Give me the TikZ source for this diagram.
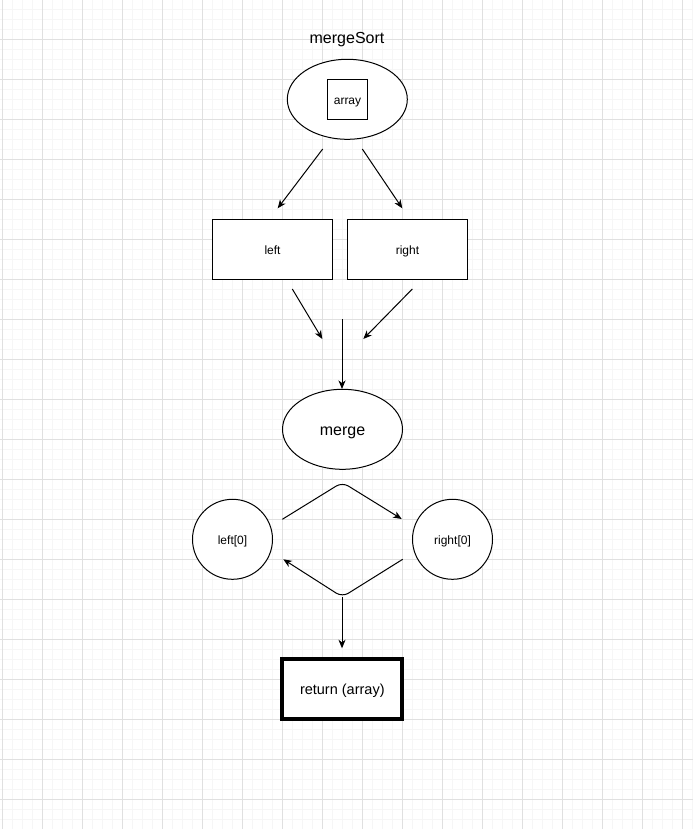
\documentclass[tikz,border=0pt]{standalone}
\usepackage{fontspec}
\setmainfont{Liberation Sans}
\usetikzlibrary{arrows.meta,shapes.geometric}

\definecolor{gridmajor}{HTML}{E0E0E0}
\definecolor{gridminor}{HTML}{F6F6F6}

\newcommand{\fsz}[1]{\fontsize{#1}{#1}\selectfont}

\tikzset{
  shape base/.style={draw=black, line width=1pt, inner sep=0pt, outer sep=0pt, fill=white},
  txt12/.style={font=\fsz{12}, text height=9.6pt, text depth=0pt},
  txt16/.style={font=\fsz{16}, text height=12.8pt, text depth=0pt},
  ovalbox/.style={shape base, ellipse, minimum width=120pt, minimum height=80pt},
  squarebox/.style={shape base, rectangle, minimum width=40pt, minimum height=40pt},
  rectbox/.style={shape base, rectangle, minimum width=120pt, minimum height=60pt},
  roundbox/.style={shape base, circle, minimum size=80pt},
  resultbox/.style={shape base, rectangle, line width=4pt, minimum width=120pt, minimum height=60pt,
    font=\fsz{14.5}, text height=10pt, text depth=0pt},
  conn/.style={draw=black, line width=1pt, -{Stealth[length=8.5pt, width=7pt, inset=2.5pt]}},
}

\begin{document}
\begin{tikzpicture}[x=1pt, y=-1pt]
  % page and grid
  \useasboundingbox (0,0) rectangle (693,829);
  \fill[white] (0,0) rectangle (693,829);
  \foreach \gx in {2.5,12.5,...,692.5}
    \draw[gridminor, line width=1pt] (\gx,0) -- (\gx,829);
  \foreach \gy in {-0.5,9.5,...,829.5}
    \draw[gridminor, line width=1pt] (0,\gy) -- (693,\gy);
  \foreach \gx in {2.5,42.5,...,692.5}
    \draw[gridmajor, line width=1pt] (\gx,0) -- (\gx,829);
  \foreach \gy in {39.5,79.5,...,829.5}
    \draw[gridmajor, line width=1pt] (0,\gy) -- (693,\gy);

  % title
  \node[font=\fsz{16}, anchor=base, inner sep=0pt] (title) at (347,44) {mergeSort};

  % mergeSort call with its argument
  \node[ovalbox] (ms) at (347.3,99.3) {};
  \node[squarebox, txt12] (arr) at (347.5,99.3) {array};

  % halves
  \node[rectbox, txt12] (left) at (272.5,249.3) {left};
  \node[rectbox, txt12] (right) at (407.5,249.3) {right};

  % merge step
  \node[ovalbox, txt16] (merge) at (342.5,429.3) {merge};

  % heads being compared
  \node[roundbox, txt12] (l0) at (232.5,539.3) {left[0]};
  \node[roundbox, txt12] (r0) at (452.5,539.3) {right[0]};

  % result
  \node[resultbox] (ret) at (342.3,689) {return (array)};

  % connector end points
  \coordinate (splitLs) at (322.7,149);   \coordinate (splitLe) at (277.7,208.3);
  \coordinate (splitRs) at (362.3,149);   \coordinate (splitRe) at (402.3,208.3);
  \coordinate (joinLs)  at (292.3,289);   \coordinate (joinLe)  at (322.3,339);
  \coordinate (joinRs)  at (412.3,289);   \coordinate (joinRe)  at (363.3,339);
  \coordinate (joinCs)  at (342,319);     \coordinate (joinCe)  at (342,389);
  \coordinate (cmpTa)   at (282.3,519.3); \coordinate (cmpTb)   at (342.3,482.3); \coordinate (cmpTc) at (401.7,519);
  \coordinate (cmpBa)   at (402.7,559.3); \coordinate (cmpBb)   at (342.3,597);   \coordinate (cmpBc) at (283.3,559.3);
  \coordinate (outS)    at (342,597);     \coordinate (outE)    at (342,648.3);

  % connectors
  \draw[conn] (splitLs) -- (splitLe);
  \draw[conn] (splitRs) -- (splitRe);
  \draw[conn] (joinLs) -- (joinLe);
  \draw[conn] (joinRs) -- (joinRe);
  \draw[conn] (joinCs) -- (joinCe);
  \draw[conn, rounded corners=7pt] (cmpTa) -- (cmpTb) -- (cmpTc);
  \draw[conn, rounded corners=7pt] (cmpBa) -- (cmpBb) -- (cmpBc);
  \draw[conn] (outS) -- (outE);
\end{tikzpicture}
\end{document}
